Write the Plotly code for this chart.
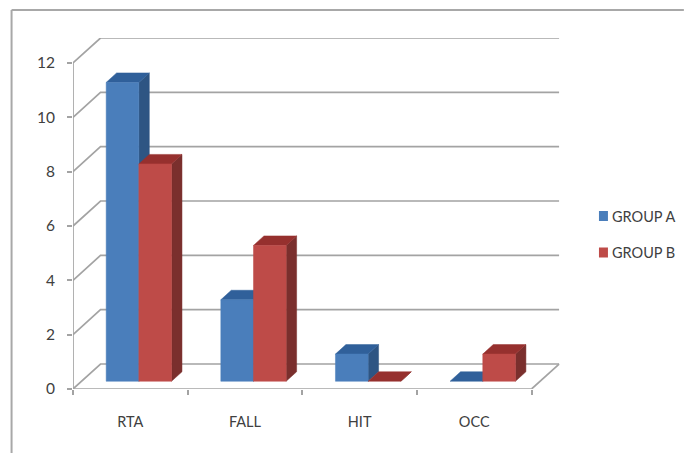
import plotly.graph_objects as go

# Counts per injury mechanism
categories = ["RTA", "FALL", "HIT", "OCC"]
group_a = [11, 3, 1, 0]
group_b = [8, 5, 0, 1]
y_ticks = [0, 2, 4, 6, 8, 10, 12]
series_names = ["GROUP A", "GROUP B"]

# Oblique projection: how far one full unit of depth moves in axis units
DEPTH_X = 0.24
DEPTH_Y = 0.92
BAR_WIDTH = 0.285
BAR_DEPTH_START = 0.31
BAR_DEPTH_LEN = 0.38

GRID = "#a3a3a3"
TEXT = "#404040"
FONT = "Lato, sans-serif"

# Front, top and side shades for each series
PALETTE = [
    ("#4a7ebb", "#30609a", "#2e5583"),
    ("#be4b48", "#96302e", "#7a2f2d"),
]

WIDTH, HEIGHT = 684, 453
M_L, M_R, M_T, M_B = 72.5, 124, 38, 64
X_MAX = 4 + DEPTH_X + 0.008
Y_MAX = 12 + DEPTH_Y


def line_trace(xs, ys):
    return go.Scatter(x=xs, y=ys, mode="lines", line=dict(color=GRID, width=1.7),
                      cliponaxis=False, hoverinfo="skip", showlegend=False)


def face(xs, ys, color, name, value):
    return go.Scatter(x=xs + [xs[0]], y=ys + [ys[0]], mode="lines", fill="toself",
                      fillcolor=color, line=dict(color=color, width=0.5),
                      name=name, text=f"{value}", hoverinfo="name+text", showlegend=False)


fig = go.Figure()

# Back wall gridlines with their diagonals down to the value axis
for v in y_ticks:
    fig.add_trace(line_trace([0, DEPTH_X, 4 + DEPTH_X], [v, v + DEPTH_Y, v + DEPTH_Y]))

# Floor edge on the right, then the front value and category axes
fig.add_trace(line_trace([4, 4 + DEPTH_X], [0, DEPTH_Y]))
fig.add_trace(line_trace([0, 0], [0, y_ticks[-1]]))
fig.add_trace(line_trace([0, 4], [0, 0]))


def add_bar(left, value, shades, name):
    x0 = left + BAR_DEPTH_START * DEPTH_X
    x1 = x0 + BAR_WIDTH
    y0 = BAR_DEPTH_START * DEPTH_Y
    y1 = y0 + value
    dx = BAR_DEPTH_LEN * DEPTH_X
    dy = BAR_DEPTH_LEN * DEPTH_Y
    front, top, side = shades
    fig.add_trace(face([x1, x1 + dx, x1 + dx, x1], [y0, y0 + dy, y1 + dy, y1], side, name, value))
    fig.add_trace(face([x0, x1, x1 + dx, x0 + dx], [y1, y1, y1 + dy, y1 + dy], top, name, value))
    if value > 0:
        fig.add_trace(face([x0, x1, x1, x0], [y0, y0, y1, y1], front, name, value))


for i, _ in enumerate(categories):
    left = i + 0.5 - BAR_WIDTH
    add_bar(left, group_a[i], PALETTE[0], series_names[0])
    add_bar(left + BAR_WIDTH, group_b[i], PALETTE[1], series_names[1])


def px_x(p):
    return (p - M_L) / (WIDTH - M_L - M_R)


def px_y(p):
    return 1 - (p - M_T) / (HEIGHT - M_T - M_B)


# Frame around the chart area, open to the right and below
shapes = [
    dict(type="line", xref="paper", yref="paper", x0=px_x(11), x1=px_x(684), y0=px_y(10), y1=px_y(10),
         line=dict(color="#a8a8a8", width=2), layer="below"),
    dict(type="line", xref="paper", yref="paper", x0=px_x(11), x1=px_x(11), y0=px_y(10), y1=px_y(453),
         line=dict(color="#a8a8a8", width=2), layer="below"),
]

# Legend keys and labels
annotations = []
for name, shades, cy in zip(series_names, PALETTE, [216, 252.5]):
    shapes.append(dict(type="rect", xref="paper", yref="paper",
                       x0=px_x(599), x1=px_x(608), y0=px_y(cy + 5), y1=px_y(cy - 5),
                       fillcolor=shades[0], line=dict(width=0)))
    annotations.append(dict(xref="paper", yref="paper", x=px_x(610), y=px_y(cy), text=name,
                            showarrow=False, xanchor="left", yanchor="middle",
                            font=dict(family=FONT, size=14.5, color=TEXT)))

fig.update_layout(
    width=WIDTH,
    height=HEIGHT,
    margin=dict(l=M_L, r=M_R, t=M_T, b=M_B, pad=0),
    paper_bgcolor="white",
    plot_bgcolor="white",
    showlegend=False,
    shapes=shapes,
    annotations=annotations,
    xaxis=dict(
        range=[0, X_MAX],
        showgrid=False,
        zeroline=False,
        showline=False,
        tickmode="array",
        tickvals=[i + 0.5 for i in range(len(categories))],
        ticktext=categories,
        ticks="",
        ticklabelstandoff=22,
        tickfont=dict(family=FONT, size=14.5, color=TEXT),
        minor=dict(tickmode="array", tickvals=list(range(len(categories) + 1)),
                   ticks="outside", ticklen=5, tickwidth=1.7, tickcolor=GRID, showgrid=False),
        fixedrange=True,
    ),
    yaxis=dict(
        range=[0, Y_MAX],
        showgrid=False,
        zeroline=False,
        showline=False,
        tickmode="array",
        tickvals=y_ticks,
        ticks="outside",
        ticklen=5,
        tickwidth=1.7,
        tickcolor=GRID,
        ticklabelstandoff=9,
        tickfont=dict(family=FONT, size=15.5, color=TEXT),
        fixedrange=True,
    ),
)

fig.write_html("out.html", config=dict(displayModeBar=False))
